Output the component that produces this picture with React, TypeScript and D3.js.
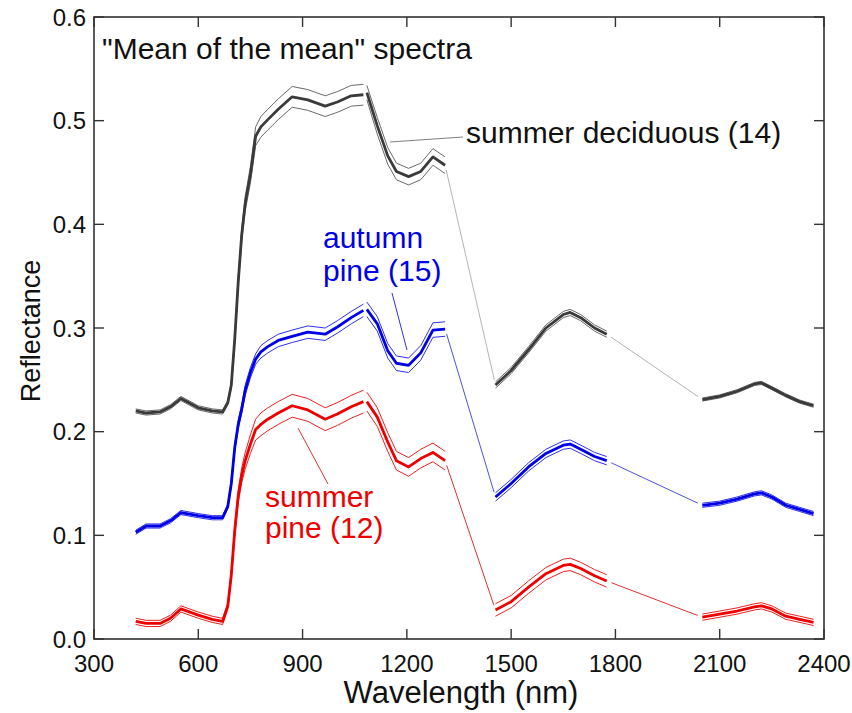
import React from "react";
import * as d3 from "d3";

// ---- data ----
const wavelengths = [
  420, 450, 490, 520, 550, 600, 640, 670, 685, 695, 705, 715, 725, 735, 750, 765, 780, 800, 830, 870, 915, 965, 1000, 1040, 1075,
  1085, 1115, 1145, 1170, 1205, 1240, 1275, 1310,
  1455, 1500, 1550, 1600, 1650, 1670, 1700, 1740, 1775,
  2050, 2100, 2150, 2200, 2220, 2250, 2290, 2330, 2370,
];
const segmentRanges: [number, number][] = [[400, 1080], [1080, 1400], [1400, 1900], [1900, 2400]];

const grayMean = [
  0.220, 0.218, 0.219, 0.224, 0.232, 0.223, 0.220, 0.219, 0.228, 0.245, 0.290, 0.345, 0.390, 0.420, 0.448, 0.485, 0.494, 0.501, 0.511, 0.523, 0.520, 0.514, 0.518, 0.524, 0.525,
  0.527, 0.495, 0.466, 0.451, 0.446, 0.451, 0.465, 0.457,
  0.245, 0.259, 0.279, 0.300, 0.313, 0.315, 0.310, 0.300, 0.294,
  0.231, 0.234, 0.239, 0.246, 0.247, 0.242, 0.235, 0.229, 0.225,
];
const graySpread = [
  0.002, 0.002, 0.002, 0.002, 0.002, 0.002, 0.002, 0.002, 0.002, 0.003, 0.004, 0.005, 0.006, 0.007, 0.008, 0.009, 0.010, 0.010, 0.010, 0.010, 0.010, 0.010, 0.010, 0.010, 0.010,
  0.007, 0.008, 0.008, 0.008, 0.008, 0.008, 0.008, 0.008,
  0.003, 0.003, 0.003, 0.003, 0.003, 0.003, 0.003, 0.003, 0.003,
  0.0015, 0.0015, 0.0015, 0.0015, 0.0015, 0.0015, 0.0015, 0.0015, 0.0015,
];
const blueMean = [
  0.103, 0.109, 0.109, 0.114, 0.122, 0.119, 0.117, 0.117, 0.128, 0.150, 0.185, 0.207, 0.222, 0.240, 0.257, 0.270, 0.277, 0.282, 0.288, 0.292, 0.296, 0.294, 0.301, 0.310, 0.317,
  0.318, 0.304, 0.278, 0.266, 0.264, 0.276, 0.298, 0.299,
  0.137, 0.150, 0.166, 0.179, 0.187, 0.188, 0.183, 0.176, 0.172,
  0.129, 0.131, 0.135, 0.140, 0.141, 0.137, 0.129, 0.125, 0.121,
];
const blueSpread = [
  0.002, 0.002, 0.002, 0.002, 0.002, 0.002, 0.002, 0.002, 0.002, 0.003, 0.003, 0.004, 0.004, 0.005, 0.005, 0.005, 0.006, 0.006, 0.006, 0.006, 0.006, 0.006, 0.006, 0.006, 0.006,
  0.007, 0.007, 0.007, 0.007, 0.007, 0.007, 0.007, 0.007,
  0.004, 0.004, 0.004, 0.004, 0.004, 0.004, 0.004, 0.004, 0.004,
  0.002, 0.002, 0.002, 0.002, 0.002, 0.002, 0.002, 0.002, 0.002,
];
const redMean = [
  0.017, 0.015, 0.015, 0.020, 0.029, 0.023, 0.019, 0.017, 0.032, 0.062, 0.105, 0.138, 0.158, 0.172, 0.188, 0.202, 0.207, 0.212, 0.218, 0.225, 0.221, 0.212, 0.217, 0.224, 0.229,
  0.229, 0.214, 0.190, 0.172, 0.166, 0.174, 0.180, 0.172,
  0.028, 0.036, 0.050, 0.063, 0.071, 0.072, 0.068, 0.061, 0.056,
  0.021, 0.024, 0.027, 0.031, 0.032, 0.029, 0.022, 0.019, 0.016,
];
const redSpread = [
  0.003, 0.003, 0.003, 0.003, 0.003, 0.003, 0.003, 0.003, 0.003, 0.004, 0.005, 0.006, 0.007, 0.008, 0.009, 0.010, 0.011, 0.011, 0.011, 0.011, 0.011, 0.011, 0.011, 0.011, 0.011,
  0.009, 0.009, 0.009, 0.009, 0.009, 0.009, 0.009, 0.009,
  0.006, 0.006, 0.006, 0.006, 0.006, 0.006, 0.006, 0.006, 0.006,
  0.003, 0.003, 0.003, 0.003, 0.003, 0.003, 0.003, 0.003, 0.003,
];

const xTicks = [300, 600, 900, 1200, 1500, 1800, 2100, 2400];
const yTicks = [0.0, 0.1, 0.2, 0.3, 0.4, 0.5, 0.6];

const seriesList = [
  { name: "summer deciduous (14)", mean: grayMean, spread: graySpread, color: "#3a3a3a", band: "#6a6a6a", gap: "#b4b4b4" },
  { name: "autumn pine (15)", mean: blueMean, spread: blueSpread, color: "#0000e6", band: "#3030f0", gap: "#5050dd" },
  { name: "summer pine (12)", mean: redMean, spread: redSpread, color: "#ee0000", band: "#ee2020", gap: "#e03030" },
];

const W = 852, H = 713;
const M = { left: 94, right: 824, top: 17, bottom: 639 };
const FONT = "'Liberation Sans', Arial, Helvetica, sans-serif";

export default function App() {
  const x = d3.scaleLinear().domain([300, 2400]).range([M.left, M.right]);
  const y = d3.scaleLinear().domain([0, 0.6]).range([M.bottom, M.top]);
  const line = d3.line<[number, number]>().x(d => x(d[0])).y(d => y(d[1]));

  const segIdx = segmentRanges.map(([lo, hi]) =>
    wavelengths.map((w, i) => (w >= lo && w < hi ? i : -1)).filter(i => i >= 0)
  );

  const paths: React.ReactNode[] = [];
  seriesList.forEach((s, si) => {
    // gap connectors
    for (let k = 1; k < segIdx.length - 1; k++) {
      const a = segIdx[k][segIdx[k].length - 1];
      const b = segIdx[k + 1][0];
      const x0 = x(wavelengths[a]), y0 = y(s.mean[a]);
      const x1 = x(wavelengths[b]), y1 = y(s.mean[b]);
      const len = Math.hypot(x1 - x0, y1 - y0);
      const ux = (x1 - x0) / len, uy = (y1 - y0) / len;
      const t = 5;
      paths.push(
        <line key={`gap-${si}-${k}`} x1={x0 + ux * t} y1={y0 + uy * t} x2={x1 - ux * t} y2={y1 - uy * t}
          stroke={s.gap} strokeWidth={1} />
      );
    }
    segIdx.forEach((idx, k) => {
      const lo = idx.map(i => [wavelengths[i], s.mean[i] - s.spread[i]] as [number, number]);
      const hi = idx.map(i => [wavelengths[i], s.mean[i] + s.spread[i]] as [number, number]);
      const mn = idx.map(i => [wavelengths[i], s.mean[i]] as [number, number]);
      paths.push(<path key={`lo-${si}-${k}`} d={line(lo) || ""} fill="none" stroke={s.band} strokeWidth={1} />);
      paths.push(<path key={`hi-${si}-${k}`} d={line(hi) || ""} fill="none" stroke={s.band} strokeWidth={1} />);
      paths.push(<path key={`mn-${si}-${k}`} d={line(mn) || ""} fill="none" stroke={s.color} strokeWidth={2.8} strokeLinejoin="round" />);
    });
  });

  const axisColor = "#333";
  const tickLen = 10;

  return (
    <svg width={W} height={H} style={{ position: "absolute", left: 0, top: 0, background: "#fff" }} fontFamily={FONT}>
      <rect x={0} y={0} width={W} height={H} fill="#fff" />
      {paths}
      {/* frame */}
      <rect x={M.left} y={M.top} width={M.right - M.left} height={M.bottom - M.top} fill="none" stroke={axisColor} strokeWidth={1.6} />
      {/* ticks */}
      {xTicks.map(t => (
        <g key={`xt${t}`}>
          <line x1={x(t)} x2={x(t)} y1={M.bottom} y2={M.bottom - tickLen} stroke={axisColor} strokeWidth={1.4} />
          <line x1={x(t)} x2={x(t)} y1={M.top} y2={M.top + tickLen} stroke={axisColor} strokeWidth={1.4} />
          <text x={x(t)} y={672} textAnchor="middle" fontSize={24} fill="#111">{t}</text>
        </g>
      ))}
      {yTicks.map(t => (
        <g key={`yt${t}`}>
          <line x1={M.left} x2={M.left + tickLen} y1={y(t)} y2={y(t)} stroke={axisColor} strokeWidth={1.4} />
          <line x1={M.right} x2={M.right - tickLen} y1={y(t)} y2={y(t)} stroke={axisColor} strokeWidth={1.4} />
          <text x={86} y={y(t)} dy="0.36em" textAnchor="end" fontSize={24} fill="#111">{t.toFixed(1)}</text>
        </g>
      ))}
      {/* axis titles */}
      <text x={461} y={703} textAnchor="middle" fontSize={31} fill="#111">Wavelength (nm)</text>
      <text transform={`translate(40,331) rotate(-90)`} textAnchor="middle" fontSize={27} fill="#111">Reflectance</text>
      {/* title */}
      <text x={102} y={59} fontSize={30} fill="#111">"Mean of the mean" spectra</text>
      {/* labels */}
      <line x1={390} y1={142} x2={463} y2={137} stroke="#808080" strokeWidth={1} />
      <text x={466} y={143} fontSize={30} fill="#111">{seriesList[0].name}</text>
      <text x={323} y={248} fontSize={30} fill="#0000e6">autumn</text>
      <text x={323} y={281} fontSize={30} fill="#0000e6">pine (15)</text>
      <line x1={392} y1={293} x2={407} y2={350} stroke="#3030e0" strokeWidth={1} />
      <text x={265} y={507} fontSize={30} fill="#ee0000">summer</text>
      <text x={265} y={538} fontSize={30} fill="#ee0000">pine (12)</text>
      <line x1={298} y1={428} x2={328} y2={484} stroke="#e03030" strokeWidth={1} />
    </svg>
  );
}
